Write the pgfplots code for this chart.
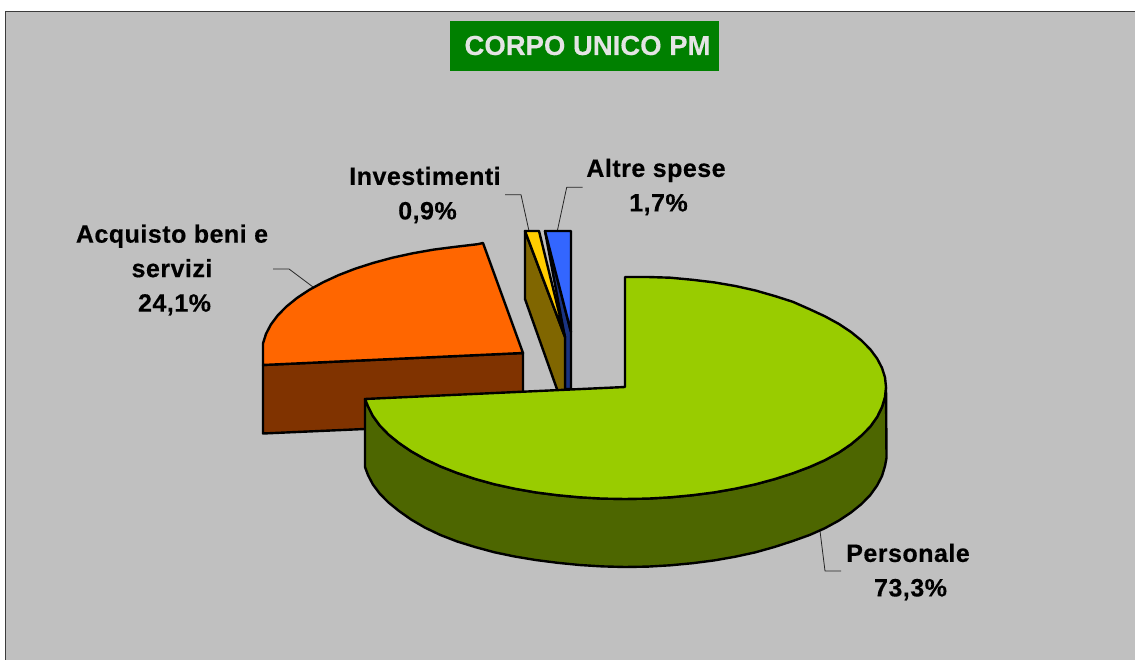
\documentclass[border=0pt]{standalone}
\usepackage{pgfplots}
\pgfplotsset{compat=1.18}
\usepackage{fontspec}
\setmainfont{Liberation Sans}
\definecolor{bg}{HTML}{C0C0C0}
\definecolor{tg}{HTML}{008000}
\definecolor{gtop}{HTML}{99CC00}
\definecolor{gside}{HTML}{4D6600}
\definecolor{otop}{HTML}{FF6600}
\definecolor{oside}{HTML}{803300}
\definecolor{ytop}{HTML}{FFCC00}
\definecolor{yside}{HTML}{806600}
\definecolor{btop}{HTML}{3366FF}
\definecolor{bside}{HTML}{1A3380}
\newcommand{\lab}{\bfseries\fontsize{25}{34.5}\selectfont\addfontfeature{LetterSpace=2,FakeBold=0.4}}
\begin{document}
\begin{tikzpicture}
\begin{axis}[scale only axis,width=1135pt,height=660pt,xmin=0,xmax=1135,ymin=0,ymax=660,y dir=reverse,axis lines=none,clip=true,
  every axis plot/.append style={line join=round}]
% background
\addplot[draw=none,fill=white] coordinates {(0,0)(1135,0)(1135,660)(0,660)} -- cycle;
\addplot[draw=none,fill=bg] coordinates {(6,12)(1135,12)(1135,660)(6,660)} -- cycle;
\addplot[draw={rgb,255:red,60;green,60;blue,60},line width=1.6pt] coordinates {(5.5,660)(5.5,11.5)(1135,11.5)};
% title box
\addplot[draw=none,fill=tg] coordinates {(450,21.5)(719,21.5)(719,71)(450,71)} -- cycle;
% leaders
\addplot[black!85,line width=0.8pt] coordinates {(273,269)(289,269)(313,287)};
\addplot[black!85,line width=0.8pt] coordinates {(505,194.7)(521,194.7)(529,231)};
\addplot[black!85,line width=0.8pt] coordinates {(582.7,187.3)(566.7,187.3)(557.3,231)};
\addplot[black!85,line width=0.8pt] coordinates {(820,531)(825,571)(841,571)};
% blue slice
\addplot[draw=black,line width=2.4pt,fill=bside] coordinates {(545,231)(565,338)(565,389)(571,389)(571,332)} -- cycle;
\addplot[draw=black,line width=2.4pt,fill=btop] coordinates {(545,231)(571,231)(571,332)} -- cycle;
% yellow slice
\addplot[draw=black,line width=2.4pt,fill=yside] coordinates {(525,231)(525,299)(558,392)(565,392)(565,337)} -- cycle;
\addplot[draw=black,line width=2.4pt,fill=ytop] coordinates {(525,231)(539,231)(565,337)} -- cycle;
% orange slice
\addplot[draw=black,line width=2.4pt,fill=oside] coordinates {(263,365)(523,353)(523,422)(263,433.5)} -- cycle;
\addplot[draw=black,line width=2.4pt,fill=otop] coordinates {(523,353)(483,243)(477.7,244.2)(455.5,246.8)(433.7,249.6)(412.7,253.3)(392.5,257.7)(373.3,262.9)(355.2,268.7)(338.4,275.2)(323.1,282.3)(309.2,289.9)(297,298)(286.5,306.5)(277.7,315.4)(270.9,324.5)(266,333.9)(263,343.4)(263,365)} -- cycle;
% green side
\addplot[draw=black,line width=2.4pt,fill=gside] coordinates {(886,387)(885,397)(882,407)(877.1,417)(870.3,426.6)(861.5,435.5)(851,444.3)(838.8,452.6)(824.9,460.2)(809.6,467)(792.8,473.3)(774.7,479.1)(755.5,484.3)(735.3,488.7)(714.3,492.4)(692.5,495.2)(670.3,497.3)(647.8,498.6)(625,499)(602.2,498.6)(579.7,497.3)(557.5,495.2)(535.7,492.4)(514.7,488.7)(494.5,484.3)(475.3,479)(457.2,473)(440.4,466.4)(425.1,459.2)(411.2,451.3)(399,443)(388.5,434.5)(379.7,425.4)(372.9,416)(368,406.3)(365,399)
(365,467)(368,475.1)(372.9,484.5)(379.7,493.6)(388.5,502.5)(399,511)(411.2,519.6)(425.1,527.7)(440.4,535)(457.2,541.5)(475.3,547.1)(494.5,552.3)(514.7,556.5)(535.7,560)(557.5,562.8)(579.7,565)(602.2,566.4)(625,567)(647.8,566.6)(670.3,565.3)(692.5,563.2)(714.3,560.4)(735.3,556.7)(755.5,552.3)(774.7,546.9)(792.8,541)(809.6,535)(824.9,528.2)(838.8,520.6)(851,512.5)(861.5,504)(870.3,495)(877.1,485.5)(882,476)(885,466)(886.5,458)} -- cycle;
% green top
\addplot[draw=black,line width=2.4pt,fill=gtop] coordinates {(625,387)(625,277)(647.8,277)(670.3,277.7)(692.5,279.8)(714.3,282.4)(735.3,286)(755.5,290.5)(774.7,296)(792.8,301.8)(809.6,309.2)(824.9,316.3)(838.8,323.9)(851,332)(861.5,340.5)(870.3,349.4)(877.1,358.5)(882,367.9)(885,377.4)(886,387)(885,397)(882,407)(877.1,417)(870.3,426.6)(861.5,435.5)(851,444.3)(838.8,452.6)(824.9,460.2)(809.6,467)(792.8,473.3)(774.7,479.1)(755.5,484.3)(735.3,488.7)(714.3,492.4)(692.5,495.2)(670.3,497.3)(647.8,498.6)(625,499)(602.2,498.6)(579.7,497.3)(557.5,495.2)(535.7,492.4)(514.7,488.7)(494.5,484.3)(475.3,479)(457.2,473)(440.4,466.4)(425.1,459.2)(411.2,451.3)(399,443)(388.5,434.5)(379.7,425.4)(372.9,416)(368,406.3)(365,399)} -- cycle;
% text
\node[text={rgb,255:red,228;green,228;blue,228},font=\bfseries\fontsize{27.5}{30}\selectfont\addfontfeature{FakeBold=0.3}] at (axis cs:587.5,45.5) {CORPO UNICO PM};
\node[align=center,font=\lab] at (axis cs:172,270) {Acquisto beni e\\servizi\\\hspace*{5pt}24,1\%};
\node[align=center,font=\lab] at (axis cs:425,195) {Investimenti\\\hspace*{5pt}0,9\%};
\node[align=center,font=\lab] at (axis cs:656,187) {Altre spese\\\hspace*{5pt}1,7\%};
\node[align=center,font=\lab] at (axis cs:908,572) {Personale\\\hspace*{5pt}73,3\%};
\end{axis}
\end{tikzpicture}
\end{document}
